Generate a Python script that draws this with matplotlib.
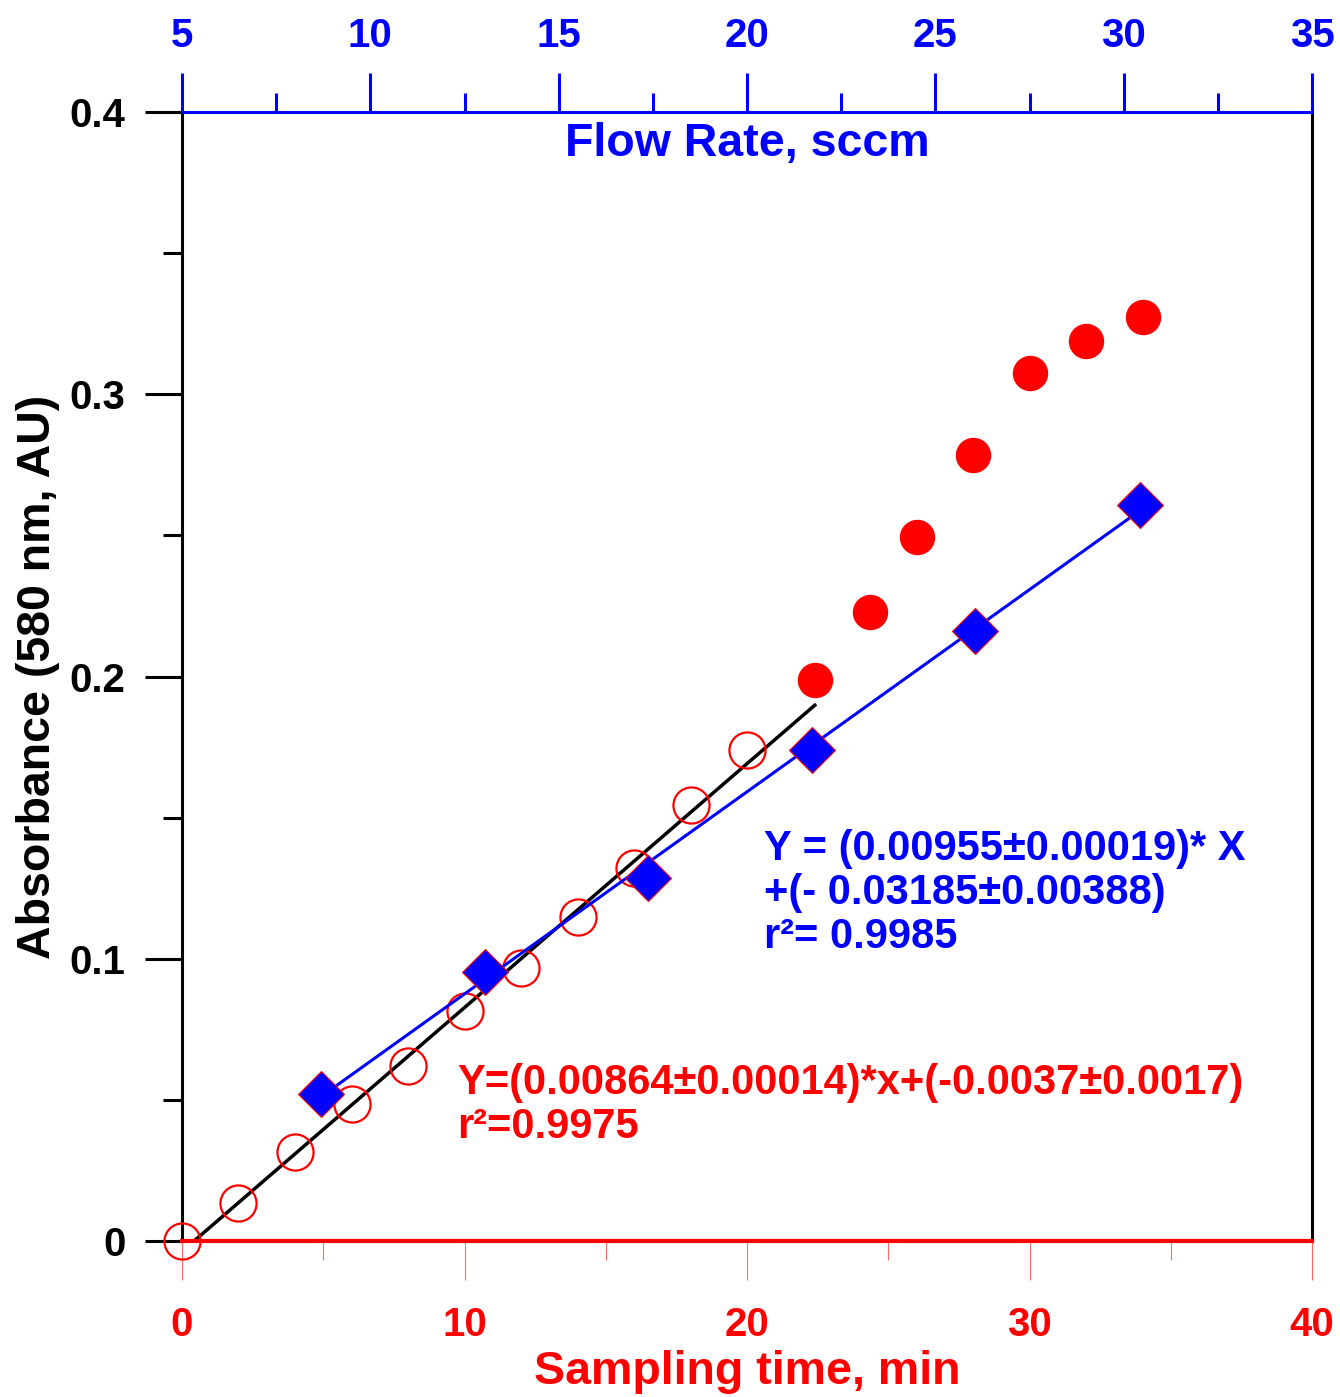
import numpy as np
import matplotlib
matplotlib.use("Agg")
import matplotlib.pyplot as plt
from matplotlib.ticker import MultipleLocator

plt.rcParams['font.family'] = ['Liberation Sans', 'DejaVu Sans']
plt.rcParams['font.weight'] = 'bold'

# sampling time series (bottom axis)
time_open = [0, 2, 4, 6, 8, 10, 12, 14, 16, 18, 20]
abs_open = [0.0, 0.0135, 0.0315, 0.0485, 0.062, 0.0815, 0.0967, 0.1148, 0.132, 0.1545, 0.174]
time_filled = [22.4, 24.35, 26.0, 28.0, 30.0, 32.0, 34.0]
abs_filled = [0.1988, 0.2229, 0.2494, 0.2785, 0.3075, 0.3189, 0.3274]

# flow rate series (top axis)
flow = [8.69, 13.04, 17.37, 21.72, 26.05, 30.43]
abs_flow = [0.0521, 0.0953, 0.1286, 0.174, 0.2161, 0.2608]

# linear fits
time_fit = (0.00864, -0.0037)
time_fit_range = [0.43, 22.4]
flow_fit = (0.00955, -0.03185)

red = '#ff0000'
blue = '#0000ff'

fig = plt.figure(figsize=(13.4, 13.97), dpi=100)
ax = fig.add_axes([182/1340, 1 - 1241/1397, (1312-182)/1340, (1241-112)/1397])

ax.set_xlim(0, 40)
ax.set_ylim(0, 0.4)

xf = np.array(time_fit_range)
ax.plot(xf, time_fit[0]*xf + time_fit[1], color='black', lw=2.5, zorder=2)
ax.plot(time_open, abs_open, 'o', ms=26, mfc='none', mec=red, mew=1.6, clip_on=False, zorder=3)
ax.plot(time_filled, abs_filled, 'o', ms=24.5, mfc=red, mec=red, clip_on=False, zorder=3)

ax.xaxis.set_major_locator(MultipleLocator(10))
ax.xaxis.set_minor_locator(MultipleLocator(5))
ax.yaxis.set_minor_locator(MultipleLocator(0.05))
ax.set_yticks([0, 0.1, 0.2, 0.3, 0.4])
ax.set_yticklabels(['0', '0.1', '0.2', '0.3', '0.4'])
ax.tick_params(axis='x', which='major', direction='out', length=28, width=0.8,
               color='#ff6a6a', labelcolor=red, labelsize=29, pad=19)
ax.tick_params(axis='x', which='minor', direction='out', length=14, width=0.8, color='#ff6a6a')
ax.tick_params(axis='y', which='major', direction='out', length=26.5, width=2.2,
               color='black', labelsize=29, pad=14)
ax.tick_params(axis='y', which='minor', direction='out', length=14, width=2.2, color='black')
for lab in ax.get_xticklabels() + ax.get_yticklabels():
    lab.set_fontweight('bold')

ax.spines['top'].set_visible(False)
ax.spines['bottom'].set_color(red)
ax.spines['bottom'].set_linewidth(3)
ax.spines['left'].set_linewidth(2.2)
ax.spines['right'].set_linewidth(2.2)

ax.set_xlabel('Sampling time, min', fontsize=33.5, fontweight='bold', color=red, labelpad=4)
ax.set_ylabel('Absorbance (580 nm, AU)', fontsize=33.5, fontweight='bold', labelpad=7)

ax2 = ax.twiny()
ax2.set_xlim(5, 35)
ax2.set_ylim(0, 0.4)
ff = np.array([flow[0], flow[-1]])
ax2.plot(ff, flow_fit[0]*ff + flow_fit[1], color=blue, lw=2.2, zorder=2)
ax2.plot(flow, abs_flow, 'D', ms=23, mfc=blue, mec=red, mew=0.8, zorder=4)
ax2.xaxis.set_major_locator(MultipleLocator(5))
ax2.xaxis.set_minor_locator(MultipleLocator(2.5))
ax2.tick_params(axis='x', which='major', direction='out', length=28, width=2.2,
                color=blue, labelcolor=blue, labelsize=29, pad=13)
ax2.tick_params(axis='x', which='minor', direction='out', length=14, width=2.2, color=blue)
for lab in ax2.get_xticklabels():
    lab.set_fontweight('bold')
for s in ['bottom', 'left', 'right']:
    ax2.spines[s].set_visible(False)
ax2.spines['top'].set_color(blue)
ax2.spines['top'].set_linewidth(2.2)

ax.text(0.5, 0.991, 'Flow Rate, sccm', transform=ax.transAxes, ha='center', va='top',
        fontsize=33.5, fontweight='bold', color=blue)

ax.text(20.6, 0.146, 'Y = (0.00955\u00b10.00019)* X\n+(- 0.03185\u00b10.00388)\nr\u00b2= 0.9985',
        ha='left', va='top', fontsize=30, fontweight='bold', color=blue, linespacing=1.13)
ax.text(9.75, 0.063, 'Y=(0.00864\u00b10.00014)*x+(-0.0037\u00b10.0017)\nr\u00b2=0.9975',
        ha='left', va='top', fontsize=30, fontweight='bold', color=red, linespacing=1.11)

fig.savefig('out.png', dpi=100)
